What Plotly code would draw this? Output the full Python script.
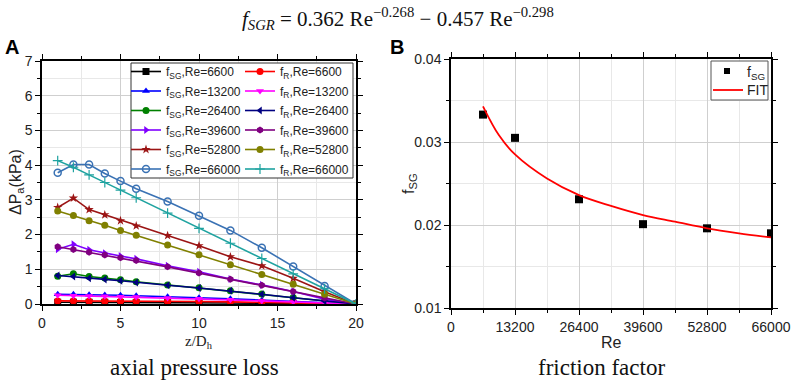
import plotly.graph_objects as go

# ---------------- Panel A data ----------------
z = [1, 2, 3, 4, 5, 6, 8, 10, 12, 14, 16, 18, 20]
sg_6600 = [0.05, 0.05, 0.05, 0.05, 0.04, 0.04, 0.04, 0.03, 0.03, 0.02, 0.02, 0.01, 0]
r_6600 = [0.09, 0.09, 0.08, 0.08, 0.08, 0.08, 0.07, 0.07, 0.06, 0.05, 0.04, 0.02, 0]
sg_13200 = [0.28, 0.28, 0.27, 0.26, 0.25, 0.24, 0.21, 0.18, 0.15, 0.11, 0.07, 0.04, 0]
r_13200 = [0.25, 0.24, 0.23, 0.22, 0.21, 0.20, 0.17, 0.15, 0.12, 0.09, 0.06, 0.03, 0]
sg_26400 = [0.80, 0.87, 0.79, 0.75, 0.70, 0.64, 0.55, 0.47, 0.38, 0.29, 0.19, 0.09, 0]
r_26400 = [0.82, 0.79, 0.74, 0.71, 0.67, 0.62, 0.54, 0.46, 0.38, 0.28, 0.18, 0.08, 0]
sg_39600 = [1.58, 1.72, 1.56, 1.46, 1.38, 1.30, 1.10, 0.93, 0.72, 0.55, 0.36, 0.14, 0]
r_39600 = [1.65, 1.57, 1.49, 1.41, 1.33, 1.25, 1.07, 0.89, 0.71, 0.54, 0.36, 0.17, 0]
sg_52800 = [2.78, 3.05, 2.72, 2.57, 2.40, 2.25, 1.97, 1.68, 1.36, 1.10, 0.74, 0.35, 0]
r_52800 = [2.68, 2.55, 2.40, 2.27, 2.12, 1.98, 1.70, 1.42, 1.13, 0.85, 0.57, 0.28, 0]
sg_66000 = [3.78, 4.02, 4.02, 3.76, 3.54, 3.32, 2.95, 2.54, 2.12, 1.62, 1.08, 0.52, 0]
r_66000 = [4.13, 3.94, 3.72, 3.50, 3.28, 3.06, 2.62, 2.18, 1.75, 1.31, 0.87, 0.44, 0]

re_labels = ["6600", "13200", "26400", "39600", "52800", "66000"]
sg_series = [sg_6600, sg_13200, sg_26400, sg_39600, sg_52800, sg_66000]
r_series = [r_6600, r_13200, r_26400, r_39600, r_52800, r_66000]

# ---------------- Panel B data ----------------
re_pts = [6600, 13200, 26400, 39600, 52800, 66000]
fsg_pts = [0.0333, 0.0305, 0.0231, 0.0201, 0.0196, 0.0190]
fit_re = [6600, 9900, 13200, 19800, 26400, 33000, 39600, 46200, 52800, 59400, 66000]
fit_f = [0.0343, 0.0308, 0.0285, 0.0256, 0.0236, 0.0223, 0.0212, 0.0204, 0.0196, 0.0190, 0.0185]

re_ticks = [0, 13200, 26400, 39600, 52800, 66000]

# ---------------- styles ----------------
sg_colors = ["#000000", "#0000FF", "#008000", "#8000FF", "#9B1414", "#3A72B4"]
r_colors = ["#FF0000", "#FF00FF", "#000080", "#800080", "#808000", "#1FA3A0"]
sg_symbols = ["square", "triangle-up", "circle", "triangle-right", "star", "circle-open"]
r_symbols = ["circle", "triangle-down", "triangle-left", "hexagon", "circle", "cross-thin"]

W, H = 796, 390
SANS = "Liberation Sans, Arial, sans-serif"
SERIF = "Liberation Serif, Times New Roman, serif"
TXT = "#222222"


def px(x):
    return x / W


def py(y):
    return 1 - y / H


fig = go.Figure()

for i, lab in enumerate(re_labels):
    fig.add_trace(go.Scatter(
        x=z, y=sg_series[i], mode="lines+markers",
        name=f"f<sub>SG</sub>,Re={lab}", legend="legend", legendgroup=f"sg{i}",
        line=dict(color=sg_colors[i], width=1.6),
        marker=dict(symbol=sg_symbols[i], size=7, color=sg_colors[i],
                    line=dict(color=sg_colors[i], width=1.5 if sg_symbols[i].endswith("open") else 0)),
        xaxis="x", yaxis="y"))
for i, lab in enumerate(re_labels):
    fig.add_trace(go.Scatter(
        x=z, y=r_series[i], mode="lines+markers",
        name=f"f<sub>R</sub>,Re={lab}", legend="legend2", legendgroup=f"r{i}",
        line=dict(color=r_colors[i], width=1.6),
        marker=dict(symbol=r_symbols[i], size=7, color=r_colors[i],
                    line=dict(color=r_colors[i], width=1.2 if r_symbols[i].startswith("cross") else 0)),
        xaxis="x", yaxis="y"))

fig.add_trace(go.Scatter(
    x=re_pts, y=fsg_pts, mode="markers", name="f<sub>SG</sub>", showlegend=False,
    marker=dict(symbol="square", size=8, color="#000000"),
    xaxis="x2", yaxis="y2"))
fig.add_trace(go.Scatter(
    x=fit_re, y=fit_f, mode="lines", name="FIT", showlegend=False,
    line=dict(color="#FF0000", width=1.8, shape="spline"),
    xaxis="x2", yaxis="y2"))

axis_common = dict(
    showline=True, linecolor="#000000", linewidth=1.5, mirror="allticks",
    ticks="outside", ticklen=5, tickwidth=1.2, tickcolor="#000000",
    showgrid=True, gridcolor="#CFCFCF", gridwidth=1, zeroline=False,
    automargin=False,
    tickfont=dict(family=SANS, size=14, color=TXT),
)


def minor(d):
    return dict(dtick=d, ticks="outside", ticklen=3, tickcolor="#000000",
                showgrid=True, gridcolor="#E8E8E8")


leg_font = dict(family=SANS, size=12, color=TXT)


def ann(text, x, y, size, family=SANS, angle=0, xanchor="center", color=TXT):
    return dict(text=text, xref="paper", yref="paper", x=px(x), y=py(y), showarrow=False,
                xanchor=xanchor, yanchor="middle", textangle=angle,
                font=dict(family=family, size=size, color=color))


fig.update_layout(
    width=W, height=H, margin=dict(l=0, r=0, t=0, b=0),
    paper_bgcolor="white", plot_bgcolor="white",
    xaxis=dict(domain=[px(42), px(356)], anchor="y", range=[0, 20], dtick=5,
               minor=minor(2.5), **axis_common),
    yaxis=dict(domain=[py(304), py(61)], anchor="x", range=[0, 7], dtick=1,
               minor=minor(0.5), **axis_common),
    xaxis2=dict(domain=[px(451), px(771)], anchor="y2", range=[0, 66000],
                tickvals=re_ticks, ticktext=[str(v) for v in re_ticks],
                minor=minor(6600), **axis_common),
    yaxis2=dict(domain=[py(308), py(59)], anchor="x2", range=[0.01, 0.04], dtick=0.01,
                tickformat=".2f", minor=minor(0.005), **axis_common),
    legend=dict(x=px(126), y=py(57), xanchor="left", yanchor="top",
                bgcolor="rgba(0,0,0,0)", borderwidth=0, tracegroupgap=0.5,
                font=leg_font, itemwidth=30),
    legend2=dict(x=px(240), y=py(57), xanchor="left", yanchor="top",
                 bgcolor="rgba(0,0,0,0)", borderwidth=0, tracegroupgap=0.5,
                 font=leg_font, itemwidth=30),
    showlegend=True,
    shapes=[
        # legend box panel A
        dict(type="rect", xref="paper", yref="paper",
             x0=px(131), x1=px(353), y0=py(178), y1=py(63),
             fillcolor="white", line=dict(color="#333333", width=1), layer="above"),
        # legend box panel B
        dict(type="rect", xref="paper", yref="paper",
             x0=px(711), x1=px(768), y0=py(100), y1=py(61),
             fillcolor="white", line=dict(color="#555555", width=1), layer="above"),
        dict(type="rect", xref="paper", yref="paper",
             x0=px(724), x1=px(730), y0=py(74), y1=py(68),
             fillcolor="#000000", line=dict(width=0), layer="above"),
        dict(type="line", xref="paper", yref="paper",
             x0=px(713), x1=px(743), y0=py(90), y1=py(90),
             line=dict(color="#FF0000", width=1.8), layer="above"),
    ],
    annotations=[
        ann("<i>f</i><sub><i>SGR</i></sub> = 0.362 Re<sup>−0.268</sup> − 0.457 Re<sup>−0.298</sup>",
            398, 18, 21, family=SERIF, color="#111111"),
        ann("<b>A</b>", 12, 47, 20, color="#000000"),
        ann("<b>B</b>", 397, 47, 20, color="#000000"),
        # axis titles
        ann("z/D<sub>h</sub>", 199, 342, 15, family=SERIF),
        ann("ΔP<sub>a</sub>(kPa)", 16, 182, 16, angle=-90),
        ann("Re", 611, 342, 16),
        ann("f<sub>SG</sub>", 409, 184, 16, angle=-90),
        # legend B text
        ann("f<sub>SG</sub>", 745, 73, 14, xanchor="left"),
        ann("FIT", 745, 90, 14, xanchor="left"),
        # captions
        ann("axial pressure loss", 194, 367, 23, family=SERIF, color="#111111"),
        ann("friction factor", 601, 367, 23, family=SERIF, color="#111111"),
    ],
)

fig.write_html("out.html", config={"displayModeBar": False},
               post_script="document.body.style.margin='0px';")
